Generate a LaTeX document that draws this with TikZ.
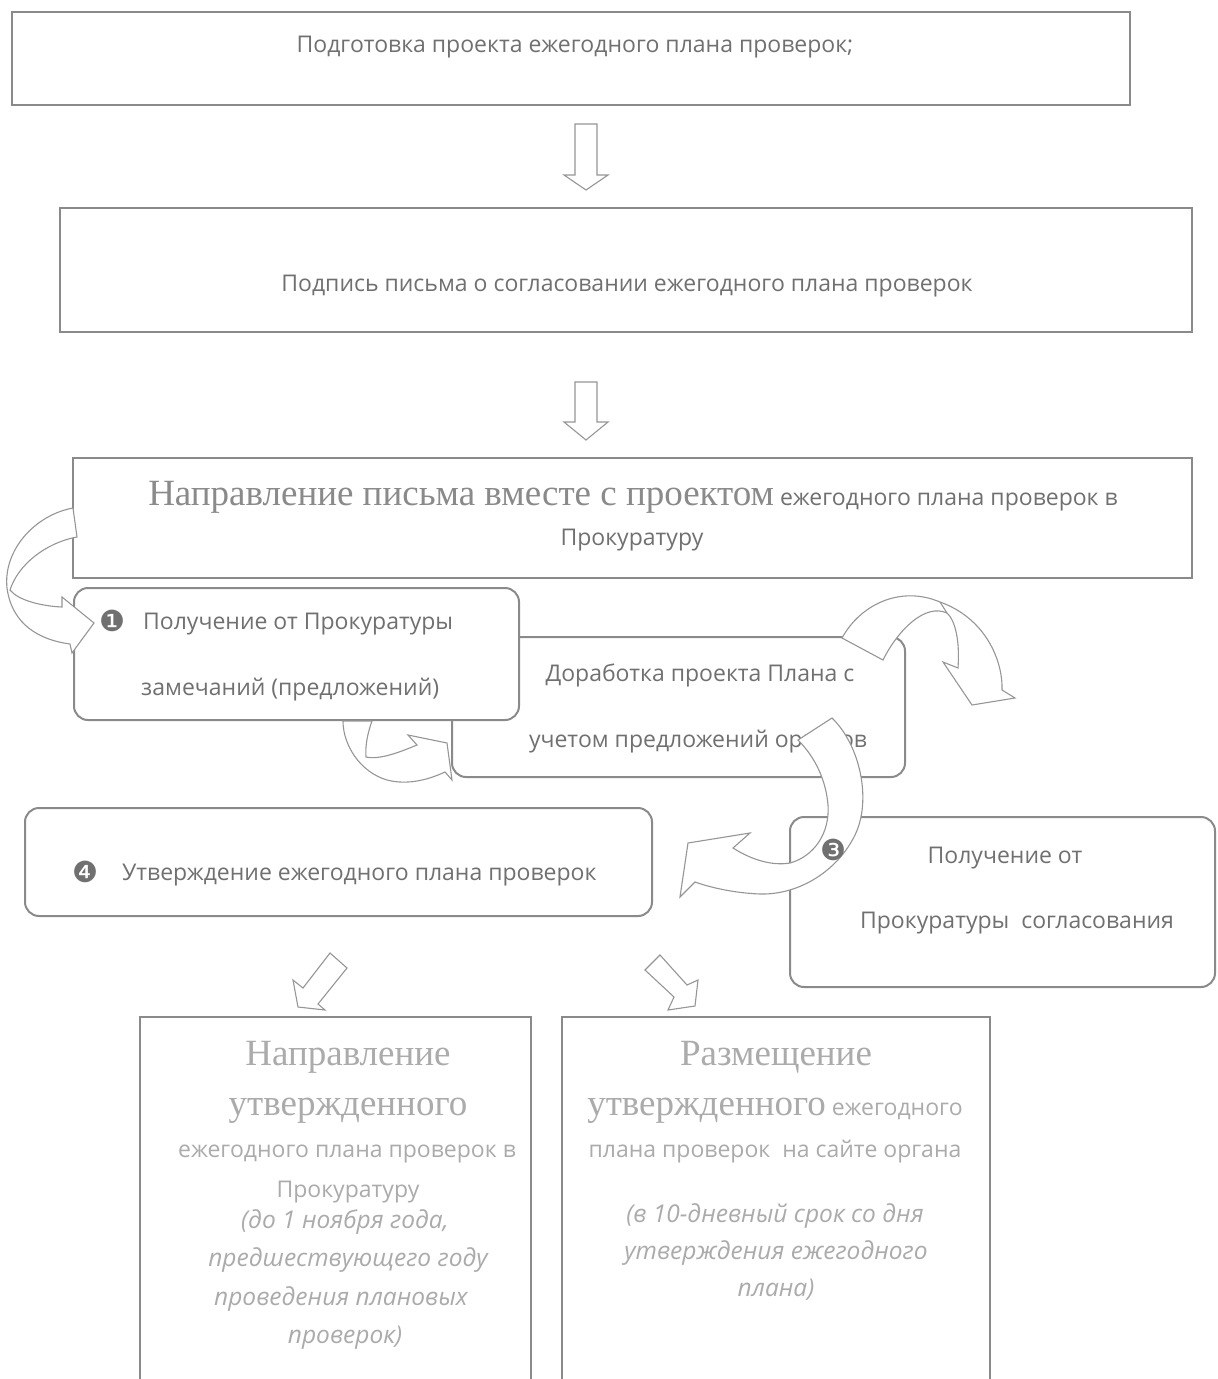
\documentclass[tikz,border=0pt]{standalone}
\usepackage{fontspec}
\setmainfont{Open Sans}
\newfontfamily\serifru{Liberation Serif}
\newfontfamily\dingfont{DejaVu Sans}
\usetikzlibrary{calc}
\definecolor{edge}{HTML}{8A8A8A}
\definecolor{txt}{HTML}{707070}
\definecolor{pale}{HTML}{ABABAB}
\definecolor{arrline}{HTML}{969696}
\begin{document}
\begin{tikzpicture}[x=1pt,y=-1pt,
  box/.style={draw=edge, line width=2pt, fill=white, inner sep=0pt, outer sep=0pt, anchor=north west},
  rbox/.style={box, rounded corners=14pt},
  lbl/.style={text=txt, font=\fontsize{23}{27}\selectfont, inner sep=0pt, anchor=base},
  lblw/.style={lbl, anchor=base west},
  plbl/.style={lbl, text=pale},
  pital/.style={plbl, font=\fontsize{24.5}{28}\selectfont\itshape},
  big/.style={font=\serifru\fontsize{37}{40}\selectfont},
  num/.style={text=txt, font=\dingfont\fontsize{29}{30}\selectfont, inner sep=0pt, anchor=base},
  arr/.style={draw=arrline, line width=1.1pt, fill=white, line join=miter}
]
\useasboundingbox (0,0) rectangle (1218,1379);
\fill[white] (0,0) rectangle (1218,1379);

% top boxes
\node[box, minimum width=1118pt, minimum height=93pt] (b1) at (12,12) {};
\node[lbl] (t1) at (575,52) {Подготовка проекта ежегодного плана проверок;};

\node[box, minimum width=1132pt, minimum height=124pt] (b2) at (60,208) {};
\node[lbl] (t2) at (627,291) {Подпись письма о согласовании ежегодного плана проверок};

\node[box, minimum width=1119pt, minimum height=120pt] (b3) at (73,458) {};
\node[lbl] (t3a) at (633,505) {{\color{edge}\serifru\fontsize{37}{40}\selectfont Направление письма вместе с проектом} ежегодного плана проверок в};
\node[lbl] (t3b) at (632,545) {Прокуратуру};

% straight block arrows down
\coordinate (d1) at (586,124);
\coordinate (d2) at (586,382);
\draw[arr] (d1) ++(-11,0) -- ++(22,0) -- ++(0,51) -- ++(11,0) -- ++(-22,15) -- ++(-22,-15) -- ++(11,0) -- cycle;
\draw[arr] (d2) ++(-11,0) -- ++(22,0) -- ++(0,40) -- ++(11,0) -- ++(-22,18) -- ++(-22,-18) -- ++(11,0) -- cycle;

% middle boxes
\node[rbox, minimum width=453pt, minimum height=140pt] (b5) at (452,637) {};
\node[lbl] (t5a) at (700,681) {Доработка проекта Плана с};
\node[lbl] (t5b) at (698,747) {учетом предложений органов};

\node[rbox, minimum width=445pt, minimum height=132pt] (b4) at (74,588) {};
\node[num] (n1) at (112,631) {❶};
\node[lblw] (t4a) at (143,629) {Получение от Прокуратуры};
\node[lblw] (t4b) at (141,695) {замечаний (предложений)};

\node[rbox, minimum width=627pt, minimum height=108pt] (b6) at (25,808) {};
\node[num] (n4) at (85,882) {❹};
\node[lblw] (t6) at (122,880) {Утверждение ежегодного плана проверок};

\node[rbox, minimum width=425pt, minimum height=170pt] (b7) at (790,817) {};
\node[lbl] (t7a) at (1005,863) {Получение от};
\node[lbl] (t7b) at (1017,928) {Прокуратуры\ \ согласования};

% curved arrows
\draw[arr] (73,508) .. controls (35,515) and (3,550) .. (7,588)
  .. controls (12,625) and (40,640) .. (70,644) -- (72,653) -- (94,623) -- (62,597) -- (62,607)
  .. controls (40,606) and (18,600) .. (10,590)
  .. controls (18,565) and (45,543) .. (77,537) -- cycle;

\draw[arr] (343,721) .. controls (343,745) and (360,772) .. (387,780)
  .. controls (410,786) and (432,778) .. (445,772) -- (452,780) -- (447,743) -- (408,735) -- (417,745)
  .. controls (400,752) and (380,760) .. (366,757)
  .. controls (365,745) and (368,732) .. (372,721) -- cycle;

\draw[arr] (842,638) .. controls (860,605) and (900,585) .. (940,602)
  .. controls (985,618) and (1003,660) .. (1002,690) -- (1015,698) -- (972,705) -- (943,662) -- (958,668)
  .. controls (960,640) and (955,620) .. (947,613)
  .. controls (925,603) and (898,630) .. (883,660) -- cycle;
\draw[arrline, line width=1.1pt] (940,602) -- (947,613);

\draw[arr] (832,718) .. controls (860,745) and (872,800) .. (855,835)
  .. controls (838,870) and (800,895) .. (760,894)
  .. controls (735,893) and (712,888) .. (695,882) -- (680,897) -- (688,843) -- (750,833) -- (733,848)
  .. controls (752,860) and (772,866) .. (790,863)
  .. controls (815,856) and (830,832) .. (828,805)
  .. controls (826,780) and (815,757) .. (798,740) -- cycle;

\node[num] (n3) at (833,860) {❸};

% diagonal arrows
\draw[arr] (330,953) -- (303,988) -- (293,980) -- (298,1007) -- (325,1010) -- (318,1004) -- (347,968) -- cycle;
\draw[arr] (660,955) -- (687,985) -- (698,980) -- (695,1006) -- (668,1010) -- (674,997) -- (645,970) -- cycle;

% bottom boxes (open at the bottom)
\node[box, minimum width=391pt, minimum height=400pt] (b8) at (140,1017) {};
\node[plbl, big] (t8a) at (348,1065) {Направление};
\node[plbl, big] (t8b) at (348,1115) {утвержденного};
\node[plbl] (t8c) at (347,1157) {ежегодного плана проверок в};
\node[plbl] (t8d) at (348,1197) {Прокуратуру};
\node[pital] (t8e) at (345,1228) {(до 1 ноября года,};
\node[pital] (t8f) at (348,1266) {предшествующего году};
\node[pital] (t8g) at (341,1305) {проведения плановых};
\node[pital] (t8h) at (345,1343) {проверок)};

\node[box, minimum width=428pt, minimum height=400pt] (b9) at (562,1017) {};
\node[plbl, big] (t9a) at (776,1065) {Размещение};
\node[plbl] (t9b) at (775,1115) {{\serifru\fontsize{37}{40}\selectfont утвержденного} ежегодного};
\node[plbl] (t9c) at (775,1157) {плана проверок\ \ на сайте органа};
\node[pital] (t9d) at (775,1222) {(в 10-дневный срок со дня};
\node[pital] (t9e) at (776,1259) {утверждения ежегодного};
\node[pital] (t9f) at (776,1296) {плана)};
\end{tikzpicture}
\end{document}
